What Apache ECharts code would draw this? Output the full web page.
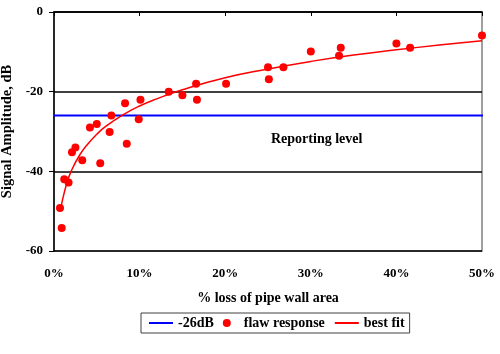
<!DOCTYPE html>
<html>
<head>
<meta charset="UTF-8">
<title>Signal amplitude vs wall loss</title>
<script src="https://cdn.jsdelivr.net/npm/echarts@6/dist/echarts.min.js"></script>
<style>
  html, body { margin: 0; padding: 0; background: #fff; }
  #chart { width: 500px; height: 354px; }
</style>
</head>
<body>
<div id="chart"></div>
<script>
// flaw response points (% loss, dB)
const pctLoss = [0.7, 0.9, 1.2, 1.7, 2.1, 2.5, 3.3, 4.2, 5.0, 5.4, 6.5, 6.7, 8.3, 8.5, 9.9, 10.1,
                 13.4, 15.0, 16.6, 16.7, 20.1, 25.0, 25.1, 26.8, 30.0, 33.3, 33.5, 40.0, 41.6, 50.0];
const amplitude = [-49.2, -54.2, -42.0, -42.8, -35.2, -34.0, -37.2, -29.0, -28.1, -38.0, -30.1, -26.0, -22.9, -33.1, -26.9, -22.0,
                   -20.0, -20.9, -18.0, -22.0, -18.0, -13.9, -16.9, -13.9, -9.9, -11.0, -9.0, -7.9, -9.0, -5.9];
// best fit curve
const fitPct = [0.8, 1, 1.5, 2, 3, 4, 5, 6, 8, 10, 12, 15, 20, 25, 30, 35, 40, 45, 50];
const fitDb = [-49.4, -47.1, -43.0, -40.0, -35.9, -33.0, -30.7, -28.8, -25.9, -23.6, -21.8, -19.5, -16.5, -14.3, -12.4, -10.8, -9.5, -8.3, -7.2];
// reporting level line
const reportPct = [0, 50.7];
const reportDb = -26;

const font = 'Liberation Serif';
const chart = echarts.init(document.getElementById('chart'));

chart.setOption({
  animation: false,
  grid: { left: 54, right: 18, top: 12, bottom: 103, outerBoundsMode: 'none', containLabel: false,
          show: true, borderColor: '#808080', borderWidth: 1.5 },
  legend: {
    left: 141, top: 313,
    padding: [3, 5, 3, 7],
    borderColor: '#404040', borderWidth: 1,
    itemGap: 9, itemWidth: 24, itemHeight: 8,
    textStyle: { fontFamily: font, fontWeight: 'bold', fontSize: 14, color: '#000' },
    data: [
      { name: '-26dB', itemStyle: { opacity: 0 } },
      { name: 'flaw response', icon: 'circle', itemStyle: { color: '#ff0000', opacity: 1 } },
      { name: 'best fit', itemStyle: { opacity: 0 } }
    ]
  },
  xAxis: [
    {
      type: 'value', position: 'bottom', min: 0, max: 50, interval: 10,
      name: '% loss of pipe wall area', nameLocation: 'middle', nameGap: 40, nameMoveOverlap: false,
      nameTextStyle: { fontFamily: font, fontWeight: 'bold', fontSize: 14, color: '#000' },
      axisLine: { show: false }, axisTick: { show: false }, splitLine: { show: false },
      axisLabel: { margin: 16, fontFamily: font, fontWeight: 'bold', fontSize: 13, color: '#000',
                   formatter: v => v + '%' }
    },
    {
      type: 'value', position: 'top', min: 0, max: 50, interval: 10,
      axisLine: { show: true, lineStyle: { color: '#000', width: 1.5 } },
      axisTick: { show: true, inside: true, length: 4, lineStyle: { color: '#000' } },
      axisLabel: { show: false }, splitLine: { show: false }
    }
  ],
  yAxis: {
    type: 'value', min: -60, max: 0, interval: 20,
    name: 'Signal Amplitude, dB', nameLocation: 'middle', nameGap: 39, nameRotate: 90, nameMoveOverlap: false,
    nameTextStyle: { fontFamily: font, fontWeight: 'bold', fontSize: 14.5, color: '#000' },
    axisLine: { show: true, lineStyle: { color: '#000', width: 1.5 } },
    axisTick: { show: true, length: 5, lineStyle: { color: '#000' } },
    splitLine: { show: true, lineStyle: { color: '#000', width: 1.5 } },
    axisLabel: { margin: 11, fontFamily: font, fontWeight: 'bold', fontSize: 13, color: '#000' }
  },
  graphic: [{
    type: 'text', left: 271, top: 132,
    style: { text: 'Reporting level', fontFamily: font, fontWeight: 'bold', fontSize: 14, fill: '#000' }
  }],
  series: [
    {
      name: '-26dB', type: 'line', symbol: 'none', clip: false, z: 3,
      lineStyle: { color: '#0000ff', width: 2 }, itemStyle: { color: '#0000ff' },
      data: reportPct.map(x => [x, reportDb])
    },
    {
      name: 'flaw response', type: 'scatter', symbol: 'circle', symbolSize: 8, z: 5,
      itemStyle: { color: '#ff0000', opacity: 1 },
      data: pctLoss.map((x, i) => [x, amplitude[i]])
    },
    {
      name: 'best fit', type: 'line', symbol: 'none', smooth: true, z: 4,
      lineStyle: { color: '#ff0000', width: 1.5 }, itemStyle: { color: '#ff0000' },
      data: fitPct.map((x, i) => [x, fitDb[i]])
    }
  ]
});
</script>
</body>
</html>
